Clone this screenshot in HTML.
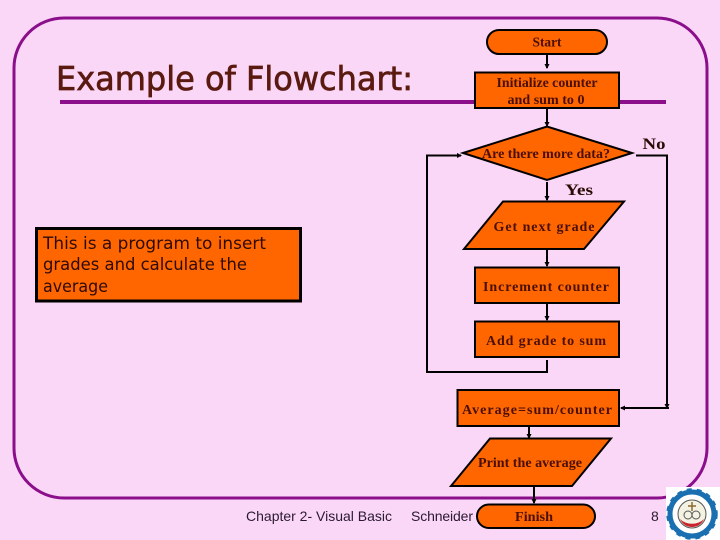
<!DOCTYPE html>
<html>
<head>
<meta charset="utf-8">
<style>
html,body{margin:0;padding:0;background:#fbd7f7;width:720px;height:540px;overflow:hidden}
svg{display:block}
.s{font-family:"Liberation Serif",serif;font-weight:bold;fill:#4a0f06;text-anchor:middle}
.c{font-family:"DejaVu Sans",sans-serif;fill:#2e0a06}
.f{font-family:"Liberation Sans",sans-serif;font-size:14px;fill:#2a1a30}
</style>
</head>
<body>
<svg width="720" height="540" viewBox="0 0 720 540" xmlns="http://www.w3.org/2000/svg">
<defs>
<marker id="a" markerWidth="5" markerHeight="5" refX="4" refY="2.5" orient="auto" markerUnits="userSpaceOnUse"><path d="M0 0L5 2.5L0 5z" fill="#000"/></marker>
</defs>
<rect width="720" height="540" fill="#fbd7f7"/>
<rect x="14" y="18" width="693" height="480" rx="50" ry="50" fill="none" stroke="#8b0f8b" stroke-width="3"/>
<rect x="60" y="100" width="606" height="4" fill="#8b0f8b"/>
<text x="56" y="90" class="c" style="fill:#5a1a10;font-size:33px;stroke:#5a1a10;stroke-width:.7" textLength="357" lengthAdjust="spacingAndGlyphs">Example of Flowchart:</text>

<rect x="36.5" y="228.5" width="264" height="72.5" fill="#ff6600" stroke="#000" stroke-width="3"/>
<text x="43" y="249" class="c" font-size="17" textLength="223" lengthAdjust="spacingAndGlyphs">This is a program to insert</text>
<text x="43" y="270" class="c" font-size="17" textLength="204" lengthAdjust="spacingAndGlyphs">grades and calculate the</text>
<text x="43" y="292" class="c" font-size="17" textLength="65" lengthAdjust="spacingAndGlyphs">average</text>

<g stroke="#000" stroke-width="2" fill="none">
<path d="M547 54V68" marker-end="url(#a)"/>
<path d="M547 108V126" marker-end="url(#a)"/>
<path d="M547 182V200" marker-end="url(#a)"/>
<path d="M547 249V266" marker-end="url(#a)"/>
<path d="M547 303V320" marker-end="url(#a)"/>
<path d="M547 360V372H427V155.500H461" marker-end="url(#a)"/>
<path d="M636 155.500H667V408" marker-end="url(#a)"/>
<path d="M669 408H621" marker-end="url(#a)"/>
<path d="M529 426V438" marker-end="url(#a)"/>
<path d="M534 486V503" marker-end="url(#a)"/>
</g>

<g fill="#ff6600" stroke="#000" stroke-width="2">
<rect x="487" y="30" width="120" height="24" rx="12" ry="12"/>
<rect x="475" y="72.500" width="144" height="35.500"/>
<polygon points="463,153 547,126.500 632,153 547,180"/>
<polygon points="503,201.500 624,201.500 584,249 464,249"/>
<rect x="475" y="267.500" width="144" height="35.500"/>
<rect x="475" y="321.500" width="144" height="35.500"/>
<rect x="457.500" y="390" width="161.500" height="36"/>
<polygon points="490,438.500 611,438.500 572,486 451,486"/>
<rect x="477" y="504.500" width="118" height="23.500" rx="12" ry="12"/>
</g>

<text x="547" y="46.500" class="s" font-size="14" textLength="29" lengthAdjust="spacingAndGlyphs">Start</text>
<text x="547" y="87" class="s" font-size="14" textLength="101" lengthAdjust="spacingAndGlyphs">Initialize counter</text>
<text x="546" y="104" class="s" font-size="14" textLength="77" lengthAdjust="spacingAndGlyphs">and sum to 0</text>
<text x="546" y="158" class="s" font-size="14" textLength="128" lengthAdjust="spacingAndGlyphs">Are there more data?</text>
<text x="654" y="149" class="s" font-size="16" style="fill:#2a0a05" textLength="23" lengthAdjust="spacingAndGlyphs">No</text>
<text x="579" y="195" class="s" font-size="16" style="fill:#2a0a05" textLength="28" lengthAdjust="spacingAndGlyphs">Yes</text>
<text x="544" y="231" class="s" font-size="14" textLength="101">Get next grade</text>
<text x="546" y="291" class="s" font-size="14" textLength="126">Increment counter</text>
<text x="546" y="345" class="s" font-size="14" textLength="120">Add grade to sum</text>
<text x="537" y="414" class="s" font-size="14" textLength="150">Average=sum/counter</text>
<text x="530" y="467" class="s" font-size="14" textLength="104" lengthAdjust="spacingAndGlyphs">Print the average</text>
<text x="534" y="521" class="s" font-size="14" textLength="38" lengthAdjust="spacingAndGlyphs">Finish</text>

<text x="246" y="521" class="f" textLength="146">Chapter 2- Visual Basic</text>
<text x="411" y="521" class="f" textLength="62">Schneider</text>
<text x="651" y="521" class="f">8</text>

<rect x="666" y="487" width="54" height="53" fill="#fff"/>
<circle cx="692" cy="514" r="22" fill="#fff" stroke="#1a6fb0" stroke-width="5"/>
<circle cx="692" cy="514" r="24.500" fill="none" stroke="#1a6fb0" stroke-width="2.500" stroke-dasharray="5 5"/>
<circle cx="692" cy="514" r="14" fill="#f4f2e2" stroke="#555" stroke-width="1"/>
<path d="M680 519A13 13 0 0 0 704 519A15 12 0 0 1 680 519z" fill="#c8242c"/>
<path d="M692 502V511M688 506H696" stroke="#8a6a30" stroke-width="1.500"/>
<circle cx="688" cy="515" r="4" fill="none" stroke="#555"/>
<circle cx="696" cy="515" r="4" fill="none" stroke="#555"/>
</svg>
</body>
</html>
